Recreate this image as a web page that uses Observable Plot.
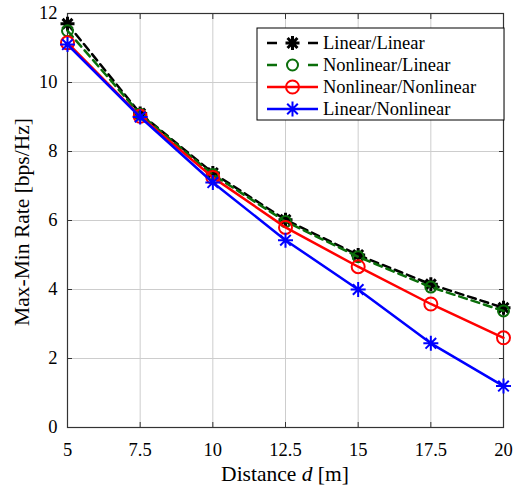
<!DOCTYPE html>
<html><head><meta charset="utf-8">
<script src="https://cdn.jsdelivr.net/npm/d3@7"></script>
<script src="https://cdn.jsdelivr.net/npm/@observablehq/plot@0.6"></script>
<style>body{margin:0;background:#fff}</style>
</head><body><div id="chart"></div>
<script>
const distances = [5, 7.5, 10, 12.5, 15, 17.5, 20];
const linLin   = [11.7, 9.1, 7.38, 6.02, 5.0, 4.15, 3.47];
const nlLin    = [11.5, 9.08, 7.33, 5.97, 4.95, 4.07, 3.38];
const nlNl     = [11.15, 9.02, 7.25, 5.8, 4.66, 3.58, 2.6];
const linNl    = [11.1, 9.0, 7.1, 5.43, 4.0, 2.44, 1.2];
const seriesNames = ["Linear/Linear", "Nonlinear/Linear", "Nonlinear/Nonlinear", "Linear/Nonlinear"];
const seriesValues = [linLin, nlLin, nlNl, linNl];
const xTicks = [5, 7.5, 10, 12.5, 15, 17.5, 20];
const yTicks = [0, 2, 4, 6, 8, 10, 12];

// MATLAB-style 8-armed asterisk
const asterisk8 = {
  draw(ctx, size) {
    const r = Math.sqrt(size / Math.PI);
    const d = r * Math.SQRT1_2;
    ctx.moveTo(-r, 0); ctx.lineTo(r, 0);
    ctx.moveTo(0, -r); ctx.lineTo(0, r);
    ctx.moveTo(-d, -d); ctx.lineTo(d, d);
    ctx.moveTo(-d, d); ctx.lineTo(d, -d);
  }
};
const circleSym = d3.symbolCircle;

const styles = [
  {color: "#000000", dash: "8,5", symbol: asterisk8, r: 7, sw: 2.5, msw: 3},
  {color: "#0a6e0a", dash: "8,5", symbol: circleSym, r: 5.5, sw: 2.5, msw: 2},
  {color: "#ff0000", dash: null, symbol: circleSym, r: 6.5, sw: 2.5, msw: 2},
  {color: "#0000ff", dash: null, symbol: asterisk8, r: 7.5, sw: 2.5, msw: 2}
];

const data = seriesNames.map((name, i) =>
  distances.map((d, j) => ({series: name, d, v: seriesValues[i][j]})));

const marks = [
  Plot.gridX(xTicks, {stroke: "#cdcdcd", strokeOpacity: 1, strokeWidth: 1}),
  Plot.gridY(yTicks, {stroke: "#cdcdcd", strokeOpacity: 1, strokeWidth: 1}),
  Plot.axisX({ticks: xTicks, tickSize: 0, tickPadding: 15, tickFormat: d => String(d), label: null, fontSize: 18.5}),
  Plot.axisY({ticks: yTicks, tickSize: 0, tickPadding: 10, label: null, fontSize: 18.5}),
  Plot.axisX({anchor: "bottom", ticks: xTicks, tickSize: -5, tickFormat: () => "", label: null, stroke: "#333"}),
  Plot.axisX({anchor: "top", ticks: xTicks, tickSize: -5, tickFormat: () => "", label: null, stroke: "#333"}),
  Plot.axisY({anchor: "left", ticks: yTicks, tickSize: -5, tickFormat: () => "", label: null, stroke: "#333"}),
  Plot.axisY({anchor: "right", ticks: yTicks, tickSize: -5, tickFormat: () => "", label: null, stroke: "#333"}),
  Plot.frame({stroke: "#333", strokeWidth: 1.2})
];
data.forEach((rows, i) => {
  const s = styles[i];
  marks.push(Plot.line(rows, {x: "d", y: "v", stroke: s.color, strokeWidth: s.sw, strokeDasharray: s.dash}));
  marks.push(Plot.dot(rows, {x: "d", y: "v", stroke: s.color, symbol: s.symbol, r: s.r, strokeWidth: s.msw, fill: "none"}));
});

const chart = Plot.plot({
  width: 524, height: 487,
  marginLeft: 67, marginRight: 21, marginTop: 13, marginBottom: 60,
  style: {fontFamily: "'Liberation Serif', 'Times New Roman', serif", fontSize: "18.5px", color: "#000", background: "#fff"},
  x: {domain: [5, 20]},
  y: {domain: [0, 12]},
  marks
});

const svg = d3.select(chart);
// axis labels
svg.append("text").attr("x", 285).attr("y", 481).attr("text-anchor", "middle")
  .attr("font-size", 21.5).attr("fill", "#000")
  .call(t => { t.append("tspan").text("Distance "); t.append("tspan").attr("font-style", "italic").text("d"); t.append("tspan").text(" [m]"); });
svg.append("text").attr("transform", "translate(29,222) rotate(-90)").attr("text-anchor", "middle")
  .attr("font-size", 21.5).attr("fill", "#000").text("Max-Min Rate [bps/Hz]");

// legend
const lg = svg.append("g");
lg.append("rect").attr("x", 257).attr("y", 28).attr("width", 247).attr("height", 92)
  .attr("fill", "#fff").attr("stroke", "#000").attr("stroke-width", 1);
seriesNames.forEach((name, i) => {
  const s = styles[i];
  const y = 43 + i * 22;
  lg.append("line").attr("x1", 267).attr("x2", 318).attr("y1", y).attr("y2", y)
    .attr("stroke", s.color).attr("stroke-width", s.sw).attr("stroke-dasharray", s.dash ? "10,31" : null);
  const sym = d3.symbol(s.symbol, Math.PI * s.r * s.r)();
  lg.append("path").attr("d", sym).attr("transform", `translate(292.5,${y})`)
    .attr("fill", "none").attr("stroke", s.color).attr("stroke-width", s.msw);
  lg.append("text").attr("x", 323).attr("y", y).attr("dy", "0.35em").attr("font-size", 18.5)
    .attr("text-anchor", "start").attr("fill", "#000").text(name);
});

document.getElementById("chart").appendChild(chart);
</script>
</body></html>
